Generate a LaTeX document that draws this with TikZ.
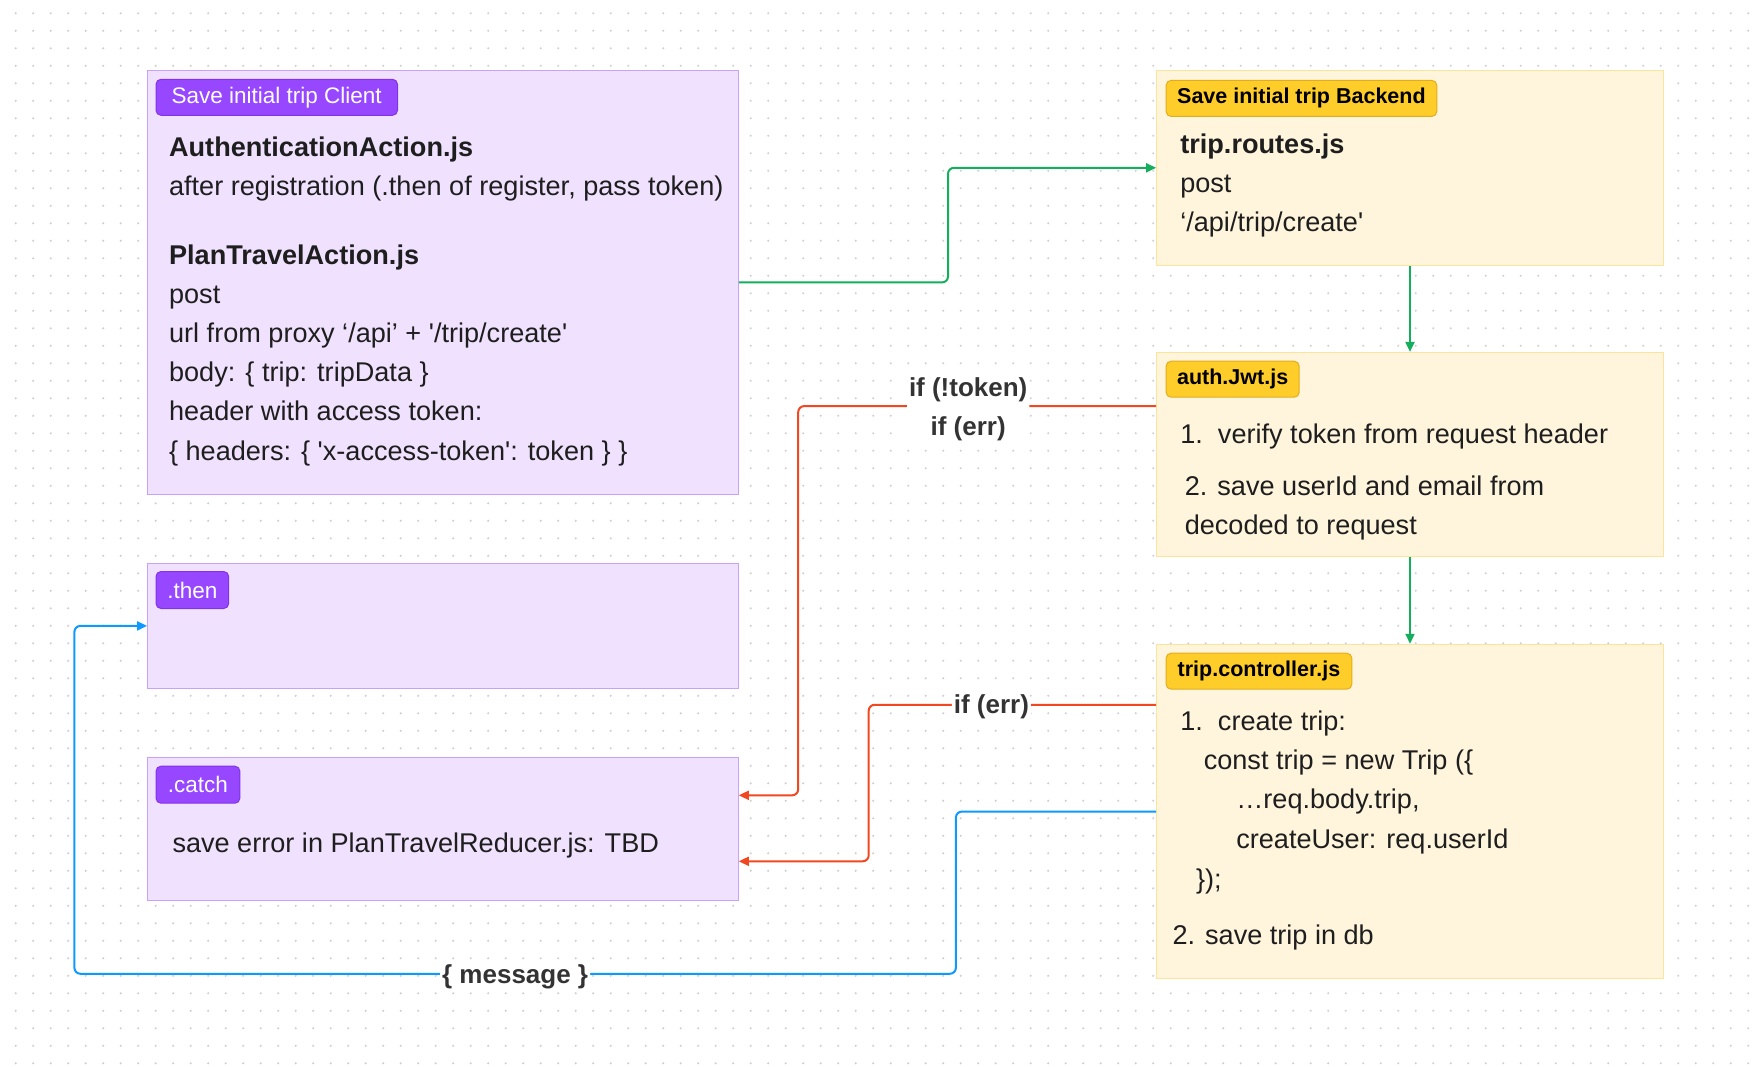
\documentclass[tikz,border=0pt]{standalone}
\usepackage{fontspec}
\setmainfont{Liberation Sans}
\usetikzlibrary{arrows.meta}
\definecolor{ink}{HTML}{1E1E1E}
\definecolor{lblc}{HTML}{333333}
\definecolor{pfill}{HTML}{F0E2FE}
\definecolor{pline}{HTML}{C8A2F8}
\definecolor{ptag}{HTML}{9747FF}
\definecolor{ptagline}{HTML}{8133E8}
\definecolor{yfill}{HTML}{FFF5DD}
\definecolor{yline}{HTML}{FCE49A}
\definecolor{ytag}{HTML}{FFCD29}
\definecolor{ytagline}{HTML}{E2AD1D}
\definecolor{redc}{HTML}{F24822}
\definecolor{greenc}{HTML}{14AE5C}
\definecolor{bluec}{HTML}{0D99FF}
\definecolor{dotc}{HTML}{D0D0D0}
\newcommand{\sq}{\textquotesingle}
\tikzset{
  pbox/.style={draw=pline, fill=pfill, line width=1pt, minimum width=590.7pt, inner sep=0},
  ybox/.style={draw=yline, fill=yfill, line width=1pt, minimum width=506.8pt, inner sep=0},
  ptagst/.style={draw=ptagline, fill=ptag, text=white, rounded corners=5pt, line width=1pt, anchor=west, minimum height=36pt, inner sep=0pt, font=\fontsize{22.5}{26}\selectfont},
  ytagst/.style={draw=ytagline, fill=ytag, text=black, rounded corners=5pt, line width=1pt, anchor=west, minimum height=36pt, inner sep=0pt, font=\fontsize{21.5}{26}\selectfont\bfseries},
  txt/.style={anchor=west, inner sep=0, yshift=-6.5pt, text height=0.75em, text depth=0.25em, text=ink, font=\fontsize{27.1}{30}\selectfont},
  lbl/.style={fill=white, text=lblc, inner xsep=2pt, inner ysep=1pt, yshift=-3pt, align=center, font=\fontsize{26}{39}\selectfont\bfseries},
  conn/.style={line width=2pt, rounded corners=6pt, -{Triangle[length=10pt,width=9pt]}},
}
\begin{document}
\begin{tikzpicture}[x=1pt,y=-1pt]
\useasboundingbox (0,0) rectangle (1754,1066);
\fill[white] (0,0) rectangle (1754,1066);
\foreach \i in {0,...,99} {
  \foreach \j in {0,...,60} {
    \fill[dotc] (15.7+\i*17.5, 13.3+\j*17.5) circle (1.15);
  }
}
% boxes
\node[pbox, minimum height=423.9pt] (client) at (442.95,282.45) {};
\node[pbox, minimum height=124.2pt] (then) at (442.95,625.9) {};
\node[pbox, minimum height=143.2pt] (catch) at (442.95,828.9) {};
\node[ybox, minimum height=194.6pt] (backend) at (1410,167.8) {};
\node[ybox, minimum height=203.6pt] (auth) at (1410,454.2) {};
\node[ybox, minimum height=334.5pt] (controller) at (1410,811.55) {};
% tags
\node[ptagst, minimum width=241.5pt] (tclient) at (155.5,97.3) {Save initial trip Client};
\node[ptagst, minimum width=72.7pt, minimum height=37pt] (tthen) at (155.5,590) {.then};
\node[ptagst, minimum width=83.9pt, minimum height=37pt] (tcatch) at (155.5,784.7) {.catch};
\node[ytagst, minimum width=270.7pt] (tbackend) at (1165.6,98.4) {Save initial trip Backend};
\node[ytagst, minimum width=133.1pt] (tauth) at (1165.6,379.2) {auth.Jwt.js};
\node[ytagst, minimum width=185.7pt] (tcontroller) at (1165.6,671.2) {trip.controller.js};
% client text
\node[txt] (c1) at (168.9,147.7) {\bfseries AuthenticationAction.js};
\node[txt] (c2) at (168.9,186.8) {after registration (.then of register, pass token)};
\node[txt] (c3) at (168.9,255) {\bfseries PlanTravelAction.js};
\node[txt] (c4) at (168.9,294.2) {post};
\node[txt] (c5) at (168.9,333.3) {url from proxy ‘/api’ + \sq/trip/create\sq};
\node[txt] (c6) at (168.9,372.5) {body: \{ trip: tripData \}};
\node[txt] (c7) at (168.9,411.6) {header with access token:};
\node[txt] (c8) at (168.9,451.9) {\{ headers: \{ \sq x-access-token\sq: token \} \}};
\node[txt] (k1) at (172.3,843.4) {save error in PlanTravelReducer.js: TBD};
% backend text
\node[txt] (b1) at (1180.1,144.3) {\bfseries trip.routes.js};
\node[txt] (b2) at (1180.1,183.4) {post};
\node[txt] (b3) at (1180.1,222.6) {‘/api/trip/create\sq};
\node[txt] (a1) at (1180.1,434) {1.\ \ verify token from request header};
\node[txt] (a2) at (1184.6,486.6) {2. save userId and email from};
\node[txt] (a3) at (1184.6,525.7) {decoded to request};
\node[txt] (r1) at (1180.1,721.5) {1.\ \ create trip:};
\node[txt] (r2) at (1203.6,760.6) {const trip = new Trip (\{};
\node[txt] (r3) at (1236.1,799.8) {…req.body.trip,};
\node[txt] (r4) at (1236.1,839) {createUser: req.userId};
\node[txt] (r5) at (1195.8,879.2) {\});};
\node[txt] (r6) at (1172.3,935.2) {2. save trip in db};
% connectors
\draw[conn, greenc] (client.east) -- ++(209.2,0) |- (backend.west);
\draw[conn, greenc] (backend.south) -- (auth.north);
\draw[conn, greenc] (auth.south) -- (controller.north);
\draw[conn, redc] ([yshift=48.1pt]auth.west) -- node[lbl, pos=0.525] (l1) {if (!token)\\if (err)} ++(-357.9,0) |- ([yshift=33.6pt]catch.east);
\draw[conn, redc] ([yshift=106.8pt]controller.west) -- node[lbl, pos=0.573, yshift=1pt] (l2) {if (err)} ++(-287.4,0) |- ([yshift=-32.4pt]catch.east);
\draw[conn, bluec] (controller.west) -- ++(-200.2,0) -- ++(0,162.2) -- node[lbl, pos=0.5] (l3) {\{ message \}} ++(-881.5,0) |- (then.west);
\end{tikzpicture}
\end{document}
